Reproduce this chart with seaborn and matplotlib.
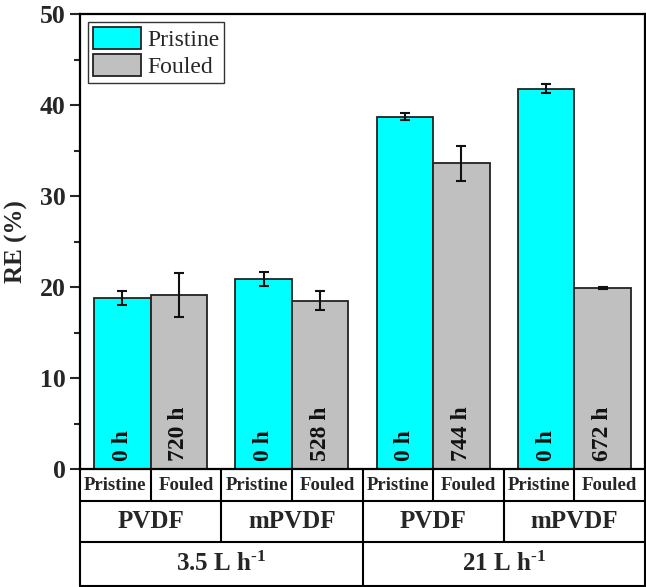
import pandas as pd
import matplotlib
matplotlib.use('Agg')
import matplotlib.pyplot as plt
import seaborn as sns

# chart values
groups = ['3.5 PVDF', '3.5 mPVDF', '21 PVDF', '21 mPVDF']
pristine = [18.8, 20.9, 38.7, 41.8]
pristine_err = [0.75, 0.8, 0.4, 0.5]
fouled = [19.1, 18.5, 33.6, 19.9]
fouled_err = [2.45, 1.05, 1.9, 0.1]
pristine_time = ['0 h', '0 h', '0 h', '0 h']
fouled_time = ['720 h', '528 h', '744 h', '672 h']
states = ['Pristine', 'Fouled']
membranes = ['PVDF', 'mPVDF', 'PVDF', 'mPVDF']
flows = ['3.5 L h$^{\\text{-}1}$', '21 L h$^{\\text{-}1}$']

df = pd.DataFrame({
    'group': groups * 2,
    'state': ['Pristine'] * 4 + ['Fouled'] * 4,
    'RE': pristine + fouled,
})

sns.set_style('ticks')
plt.rcParams['font.family'] = ['Liberation Serif', 'DejaVu Serif']
plt.rcParams['mathtext.fontset'] = 'custom'
plt.rcParams['mathtext.rm'] = 'Liberation Serif:bold'
plt.rcParams['mathtext.bf'] = 'Liberation Serif:bold'
plt.rcParams['mathtext.default'] = 'bf'

fig = plt.figure(figsize=(6.46, 5.87), dpi=100)
ax = fig.add_axes([80 / 646, (587 - 469) / 587, 565 / 646, 455 / 587])

sns.barplot(data=df, x='group', y='RE', hue='state', hue_order=states,
            palette=['#00FFFF', '#C0C0C0'], width=0.8, gap=0, errorbar=None,
            edgecolor='#222222', linewidth=1.3, saturation=1, ax=ax)

# error bars and bar labels
errs = [pristine_err, fouled_err]
times = [pristine_time, fouled_time]
for cont, err, lab in zip(ax.containers, errs, times):
    xs = [b.get_x() + b.get_width() / 2 for b in cont]
    ys = [b.get_height() for b in cont]
    ax.errorbar(xs, ys, yerr=err, fmt='none', ecolor='#111111',
                elinewidth=1.5, capsize=3.6, capthick=1.5, zorder=5)
    for x, t in zip(xs, lab):
        ax.text(x, 0.9, t, rotation=90, ha='center', va='bottom',
                fontsize=17, fontweight='bold', color='#111111')

ax.set_xlim(-0.5, 3.5)
ax.set_ylim(0, 50)
ax.set_yticks([0, 10, 20, 30, 40, 50])
ax.set_yticks([5, 15, 25, 35, 45], minor=True)
ax.set_xticks([])
ax.set_xlabel('')
ax.set_ylabel('RE (%)', fontsize=18, fontweight='bold', labelpad=8)
ax.tick_params(axis='y', which='major', length=7, width=1.5, labelsize=18.5, direction='out')
ax.tick_params(axis='y', which='minor', length=4, width=1.5, direction='out')
for lbl in ax.get_yticklabels():
    lbl.set_fontweight('bold')
for s in ax.spines.values():
    s.set_visible(True)
    s.set_linewidth(1.6)
    s.set_color('black')

leg = ax.legend(loc='upper left', fontsize=17, frameon=True, fancybox=False,
                handlelength=2.05, handleheight=1.05, borderpad=0.2,
                labelspacing=0.12, handletextpad=0.25, borderaxespad=0.35,
                edgecolor='black')
leg.get_frame().set_linewidth(1.0)

# category table below the axis
tr = ax.get_xaxis_transform()
rows = [0, -32 / 455, -73 / 455, -117 / 455]
lw = 1.5
for y in rows[1:]:
    ax.plot([-0.5, 3.5], [y, y], transform=tr, color='black', lw=lw, clip_on=False)
cols1 = [-0.5 + 0.5 * i for i in range(9)]
cols2 = [-0.5, 0.5, 1.5, 2.5, 3.5]
cols3 = [-0.5, 1.5, 3.5]
for cols, (y0, y1) in zip([cols1, cols2, cols3], zip(rows[:-1], rows[1:])):
    for x in cols:
        ax.plot([x, x], [y0, y1], transform=tr, color='black', lw=lw, clip_on=False)

for i in range(len(groups)):
    for j, st in enumerate(states):
        ax.text(i - 0.25 + 0.5 * j, (rows[0] + rows[1]) / 2, st, transform=tr,
                ha='center', va='center', fontsize=13.5, fontweight='bold')
for i, m in enumerate(membranes):
    ax.text(i, (rows[1] + rows[2]) / 2, m, transform=tr, ha='center',
            va='center', fontsize=18, fontweight='bold')
for i, f in enumerate(flows):
    ax.text(0.5 + 2 * i, (rows[2] + rows[3]) / 2, f, transform=tr,
            ha='center', va='center', fontsize=18, fontweight='bold')

fig.savefig('out.png', dpi=100)
